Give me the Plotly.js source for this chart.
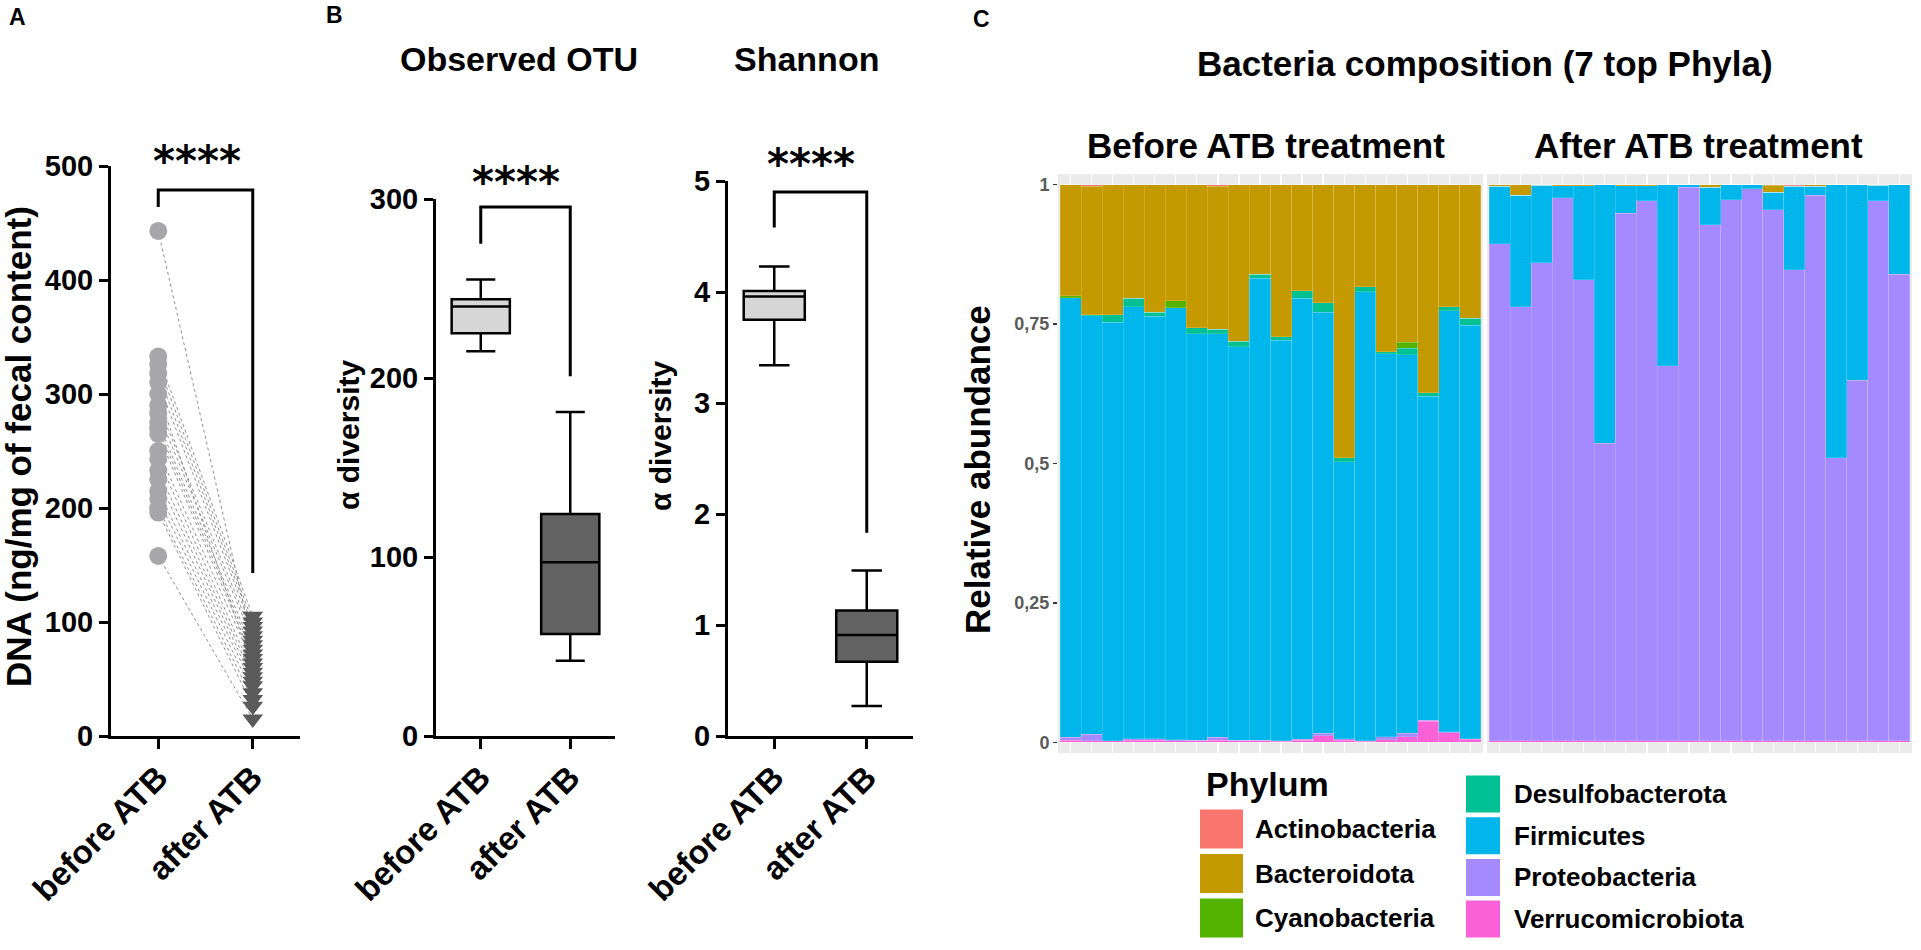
<!DOCTYPE html>
<html><head><meta charset="utf-8">
<script src="https://cdn.plot.ly/plotly-3.0.1.min.js"></script>
<style>html,body{margin:0;padding:0;background:#fff}#chart{width:1921px;height:950px}</style>
</head><body><div id="chart"></div>
<script>
const W = 1921, H = 950;
const FONT = 'Liberation Sans, Arial, Helvetica, sans-serif';

// ---------- Panel A data ----------
const groupLabels = ['before ATB', 'after ATB'];
const dnaBefore = [443, 333, 326, 318, 310, 300, 290, 283, 275, 270, 265, 250, 243, 233, 225, 215, 208, 200, 196, 158];
const dnaAfter  = [80, 105, 100, 96, 92, 60, 88, 84, 76, 72, 68, 64, 56, 52, 48, 44, 38, 32, 26, 15];
const dnaTicks  = [0, 100, 200, 300, 400, 500];

// ---------- Panel B data: [lower whisker, Q1, median, Q3, upper whisker] ----------
const otuBefore     = [215, 225, 240, 244, 255];
const otuAfter      = [42, 57, 97, 124, 181];
const otuTicks      = [0, 100, 200, 300];
const shannonBefore = [3.34, 3.75, 3.96, 4.01, 4.23];
const shannonAfter  = [0.27, 0.67, 0.91, 1.13, 1.49];
const shannonTicks  = [0, 1, 2, 3, 4, 5];

// ---------- Panel C data ----------
const phyla = ['Actinobacteria', 'Bacteroidota', 'Cyanobacteria', 'Desulfobacterota', 'Firmicutes', 'Proteobacteria', 'Verrucomicrobiota'];
const phylaColors = ['#F8766D', '#C49A00', '#53B400', '#00C094', '#00B6EB', '#A58AFF', '#FB61D7'];
const sampleIdx = [0,1,2,3,4,5,6,7,8,9,10,11,12,13,14,15,16,17,18,19];
const cTickVals = [0, 0.25, 0.5, 0.75, 1];
const cTickText = ['0', '0,25', '0,5', '0,75', '1'];

const bActino  = [0,.003,0,0,0,0,0,.003,0,0,0,0,0,0,0,0,0,0,0,0];
const bBactero = [.199,.230,.233,.204,.229,.208,.257,.256,.281,.161,.273,.190,.212,.490,.183,.300,.283,.373,.219,.240];
const bCyano   = [.004,0,0,0,0,.013,0,0,0,0,0,0,0,0,0,0,.010,0,0,0];
const bDesulfo = [0,.002,.014,.015,.007,0,.010,.008,.010,.007,.006,.014,.017,.007,.009,.003,.012,.006,.007,.012];
const bFirm    = [.788,.750,.750,.774,.757,.774,.729,.724,.705,.828,.718,.790,.755,.496,.805,.687,.679,.581,.755,.741];
const bProteo  = [.005,.012,0,.003,.003,.002,.001,.005,.001,.001,.001,.002,.004,.003,.001,.005,.006,.002,.002,.001];
const bVerruco = [.004,.003,.003,.004,.004,.003,.003,.004,.003,.003,.002,.004,.012,.004,.002,.005,.010,.038,.017,.006];

const aActino  = [0,0,0,0,0,0,0,0,0,0,0,0,0,.001,.002,0,0,0,0,0];
const aBactero = [.003,.019,.001,.002,.002,0,.002,.002,0,0,.005,0,0,.013,.001,.003,0,0,.001,0];
const aCyano   = [0,0,0,0,0,0,0,0,0,0,0,0,0,0,0,0,0,0,0,0];
const aDesulfo = [0,0,0,0,0,0,0,0,0,0,0,0,0,0,0,0,0,0,0,0];
const aFirm    = [.103,.200,.139,.022,.169,.464,.049,.027,.325,.005,.067,.027,.007,.031,.150,.016,.490,.351,.028,.161];
const aProteo  = [.891,.778,.857,.973,.826,.533,.946,.968,.672,.992,.925,.970,.990,.952,.844,.978,.507,.646,.968,.836];
const aVerruco = [.003,.003,.003,.003,.003,.003,.003,.003,.003,.003,.003,.003,.003,.003,.003,.003,.003,.003,.003,.003];

const beforeVals = [bActino, bBactero, bCyano, bDesulfo, bFirm, bProteo, bVerruco];
const afterVals  = [aActino, aBactero, aCyano, aDesulfo, aFirm, aProteo, aVerruco];

// ---------- helpers ----------
const px = x => x / W;
const py = y => 1 - y / H;

const traces = [];

// Panel A: paired dotted lines
const lx = [], ly = [];
for (let i = 0; i < dnaBefore.length; i++) { lx.push(0, 1, null); ly.push(dnaBefore[i], dnaAfter[i], null); }
traces.push({type:'scatter', mode:'lines', x:lx, y:ly, xaxis:'x', yaxis:'y',
  line:{color:'#8f8f8f', width:1, dash:'dot'}, hoverinfo:'skip', showlegend:false});
traces.push({type:'scatter', mode:'markers', x:dnaBefore.map(() => 0), y:dnaBefore, xaxis:'x', yaxis:'y',
  marker:{symbol:'circle', size:18, color:'#A7A7AA'}, hoverinfo:'skip', showlegend:false, cliponaxis:false});
traces.push({type:'scatter', mode:'markers', x:dnaAfter.map(() => 1), y:dnaAfter, xaxis:'x', yaxis:'y',
  marker:{symbol:'triangle-down', size:18, color:'#5A5A5A'}, hoverinfo:'skip', showlegend:false, cliponaxis:false});

// Panel B boxes
function boxTrace(s, xpos, fill, xa, ya, w) {
  return {type:'box', x:[xpos], lowerfence:[s[0]], q1:[s[1]], median:[s[2]], q3:[s[3]], upperfence:[s[4]],
    xaxis:xa, yaxis:ya, fillcolor:fill, line:{color:'#000', width:2.5}, whiskerwidth:0.5, width:w,
    boxpoints:false, showlegend:false, hoverinfo:'skip'};
}
traces.push(boxTrace(otuBefore, 0, '#D6D6D6', 'x2', 'y2', 0.65));
traces.push(boxTrace(otuAfter, 1, '#626262', 'x2', 'y2', 0.65));
traces.push(boxTrace(shannonBefore, 0, '#D6D6D6', 'x3', 'y3', 0.66));
traces.push(boxTrace(shannonAfter, 1, '#626262', 'x3', 'y3', 0.66));

// Panel C stacked bars (bottom -> top = last phylum -> first phylum)
for (let k = phyla.length - 1; k >= 0; k--) {
  const common = {type:'bar', name:phyla[k], showlegend:false, hoverinfo:'skip',
    marker:{color:phylaColors[k], line:{color:'rgba(255,255,255,0.28)', width:0.6}}};
  traces.push(Object.assign({}, common, {x:sampleIdx, y:beforeVals[k], xaxis:'x4', yaxis:'y4'}));
  traces.push(Object.assign({}, common, {x:sampleIdx, y:afterVals[k], xaxis:'x5', yaxis:'y5'}));
}

// ---------- axes ----------
const gpY = {showline:true, linecolor:'#000', linewidth:3, ticks:'outside', ticklen:9, tickwidth:3, tickcolor:'#000',
  showgrid:false, zeroline:false, tickfont:{family:FONT, size:29, color:'#000', weight:'bold'}, fixedrange:true};
const gpX = {showline:true, linecolor:'#000', linewidth:3, ticks:'outside', ticklen:10, tickwidth:3, tickcolor:'#000',
  showgrid:false, zeroline:false, range:[-0.5, 1.5], tickvals:[0, 1], ticktext:groupLabels, tickangle:-45,
  ticklabelstandoff:-4, tickfont:{family:FONT, size:33, color:'#000', weight:'bold'}, fixedrange:true};
const cX = {range:[-0.6, 19.6], showgrid:true, gridcolor:'#ffffff', gridwidth:1.2, tickvals:sampleIdx,
  showticklabels:false, ticks:'', showline:false, zeroline:false, fixedrange:true};
const cY = {range:[-0.019, 1.019], domain:[py(753), py(174)], tickvals:cTickVals, ticktext:cTickText, ticks:'outside',
  ticklen:4, tickwidth:1.5, tickcolor:'#333', tickfont:{family:FONT, size:18, color:'#5a5a5a', weight:'bold'},
  showgrid:false, zeroline:false, showline:false, fixedrange:true};

const layout = {
  width:W, height:H, margin:{l:0, r:0, t:0, b:0}, paper_bgcolor:'#fff', plot_bgcolor:'rgba(0,0,0,0)',
  barmode:'stack', bargap:0, showlegend:false,
  xaxis: Object.assign({}, gpX, {domain:[px(111), px(300)], anchor:'y'}),
  yaxis: Object.assign({}, gpY, {domain:[py(736), py(166)], range:[0, 500], tickvals:dnaTicks, anchor:'x'}),
  xaxis2: Object.assign({}, gpX, {domain:[px(436), px(615)], anchor:'y2'}),
  yaxis2: Object.assign({}, gpY, {domain:[py(736), py(199)], range:[0, 300], tickvals:otuTicks, anchor:'x2'}),
  xaxis3: Object.assign({}, gpX, {domain:[px(728), px(913)], anchor:'y3'}),
  yaxis3: Object.assign({}, gpY, {domain:[py(736), py(181)], range:[0, 5], tickvals:shannonTicks, anchor:'x3'}),
  xaxis4: Object.assign({}, cX, {domain:[px(1058), px(1483)], anchor:'y4'}),
  yaxis4: Object.assign({}, cY, {anchor:'x4'}),
  xaxis5: Object.assign({}, cX, {domain:[px(1487), px(1912)], anchor:'y5'}),
  yaxis5: Object.assign({}, cY, {anchor:'x5', showticklabels:false, ticks:''}),
  shapes: [], annotations: []
};

// panel backgrounds for C
['4', '5'].forEach(n => layout.shapes.push({type:'rect', xref:'x' + n + ' domain', yref:'y' + n + ' domain',
  x0:0, x1:1, y0:0, y1:1, fillcolor:'#EBEBEB', line:{width:0}, layer:'below'}));

// significance brackets
const bline = {color:'#000', width:3};
layout.shapes.push({type:'path', xref:'x', yref:'y', path:'M 0,464 L 0,479 L 1,479 L 1,143', line:bline});
layout.shapes.push({type:'path', xref:'x2', yref:'y2', path:'M 0,275 L 0,295.5 L 1,295.5 L 1,201', line:bline});
layout.shapes.push({type:'path', xref:'x3', yref:'y3', path:'M 0,4.58 L 0,4.9 L 1,4.9 L 1,1.83', line:bline});

function ann(text, x, y, size, opts) {
  layout.annotations.push(Object.assign({text:text, x:px(x), y:py(y), xref:'paper', yref:'paper', showarrow:false,
    xanchor:'center', yanchor:'middle', font:{family:FONT, size:size, color:'#000', weight:'bold'}}, opts || {}));
}
// stars
const starFont = {family:'DejaVu Sans, sans-serif', size:42, color:'#000', weight:'bold'};
ann('****', 197, 162, 42, {font:starFont});
ann('****', 516, 182, 42, {font:starFont});
ann('****', 811, 164, 42, {font:starFont});

// panel letters
ann('A', 17, 17, 23);
ann('B', 334, 15, 23);
ann('C', 982, 19, 23);

// titles
ann('Observed OTU', 519, 59, 34);
ann('Shannon', 806, 59, 34);
ann('Bacteria composition (7 top Phyla)', 1485, 63, 35);
ann('Before ATB treatment', 1266, 146, 35);
ann('After ATB treatment', 1698, 146, 35);

// axis titles
ann('DNA (ng/mg of fecal content)', 18, 447, 35, {textangle:-90});
ann('α diversity', 348, 435, 30, {textangle:-90});
ann('α diversity', 661, 436, 30, {textangle:-90});
ann('Relative abundance', 977, 470, 35, {textangle:-90});

// legend (built from phyla / colours)
ann('Phylum', 1204, 784, 34, {xanchor:'left'});
phyla.forEach((name, i) => {
  let kx0, kx1, cy, kh, tx;
  if (i < 3) { kx0 = 1200; kx1 = 1243; cy = 829 + i * 44.5; kh = 39; tx = 1253; }
  else { const j = i - 3; kx0 = 1466; kx1 = 1500; cy = 794 + j * 41.7; kh = 37; tx = 1512; }
  layout.shapes.push({type:'rect', xref:'paper', yref:'paper', x0:px(kx0), x1:px(kx1), y0:py(cy + kh / 2), y1:py(cy - kh / 2),
    fillcolor:phylaColors[i], line:{width:0}});
  ann(name, tx, cy, 26, {xanchor:'left'});
});

Plotly.newPlot('chart', traces, layout, {displayModeBar:false, staticPlot:true});
</script>
</body></html>
